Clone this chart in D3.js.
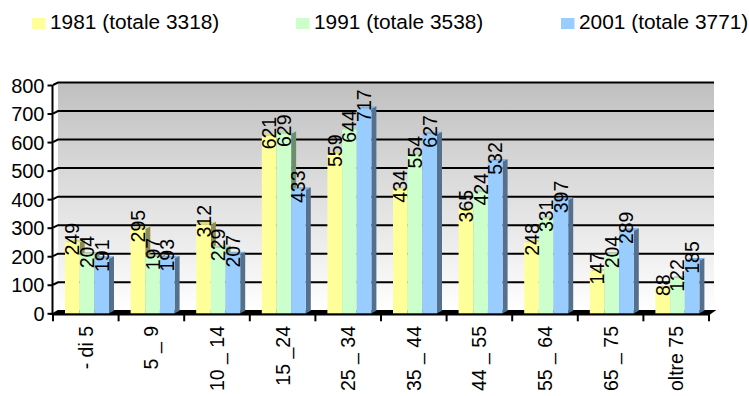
<!DOCTYPE html>
<html><head><meta charset="utf-8">
<script src="https://cdn.jsdelivr.net/npm/d3@7"></script>
<style>body{margin:0;background:#fff}svg{display:block}text{font-family:"Liberation Sans",Arial,sans-serif;fill:#000}</style>
</head><body>
<svg id="c" width="749" height="396"></svg>
<script>
const categories = ["- di 5","5 _ 9","10 _ 14","15 _24","25 _ 34","35 _ 44","44 _ 55","55 _ 64","65 _ 75","oltre 75"];
const seriesNames = ["1981 (totale 3318)","1991 (totale 3538)","2001 (totale 3771)"];
const values1981 = [249,295,312,621,559,434,365,248,147,88];
const values1991 = [204,197,229,629,644,554,424,331,204,122];
const values2001 = [191,193,207,433,717,627,532,397,289,185];
const yTicks = [0,100,200,300,400,500,600,700,800];

const seriesValues = [values1981, values1991, values2001];
const front = ["#ffff99","#ccffcc","#99ccff"];
const topC  = ["#dcdc84","#b0dcb0","#84b0dc"];
const sideC = ["#8c8c54","#6e8c6e","#54708c"];

const svg = d3.select("#c");
const x0 = d3.scaleBand().domain(categories).range([53, 709]).padding(0);
const xs = d3.scaleBand().domain(d3.range(3)).range([12, 56]).padding(0);
const y = d3.scaleLinear().domain([0, 800]).range([313.3, 85]);
const dx = 5, dy = 2.5;

const defs = svg.append("defs");
const g = defs.append("linearGradient").attr("id","wall").attr("x1",0).attr("y1",0).attr("x2",0).attr("y2",1);
g.append("stop").attr("offset","0%").attr("stop-color","#c0c0c0");
g.append("stop").attr("offset","100%").attr("stop-color","#ffffff");

const wallL = 53 + dx, wallR = 709 + dx;
svg.append("rect").attr("x", wallL).attr("y", y(800) - dy).attr("width", wallR - wallL)
  .attr("height", y(0) - y(800)).attr("fill", "url(#wall)");

svg.append("g").selectAll("path").data(yTicks.filter(d => d > 0)).join("path")
  .attr("d", d => `M${53},${y(d)} L${wallL},${y(d)-dy} L${wallR},${y(d)-dy}`)
  .attr("fill","none").attr("stroke","#000").attr("stroke-width",2);

svg.append("path")
  .attr("d", `M52,${y(0)+1} L709,${y(0)+1} L${wallR},${y(0)-dy} L${wallL},${y(0)-dy} Z`)
  .attr("fill","#000").attr("stroke","#000").attr("stroke-width",1.5);

const yAxis = d3.axisLeft(y).tickValues(yTicks).tickSize(5).tickPadding(3).tickFormat(d3.format("d"));
const ya = svg.append("g").attr("transform","translate(52.5,0)").call(yAxis);
ya.select(".domain").attr("stroke","#000").attr("stroke-width",2).attr("d", `M0,${y(800)}V${y(0)}`);
ya.selectAll(".tick line").attr("stroke","#000").attr("stroke-width",2);
ya.selectAll(".tick text").attr("font-size",20).attr("font-family","Liberation Sans, Arial, sans-serif").attr("fill","#000").attr("dy","0.36em");

const xt = d3.range(categories.length + 1).map(i => 53 + i * x0.step());
svg.append("g").selectAll("line").data(xt).join("line")
  .attr("x1", d => d).attr("x2", d => d).attr("y1", y(0)).attr("y2", y(0) + 8)
  .attr("stroke","#000").attr("stroke-width",2);
svg.append("line").attr("x1",52).attr("x2",709).attr("y1",y(0)+1).attr("y2",y(0)+1).attr("stroke","#000").attr("stroke-width",2.5);

svg.append("g").selectAll("text").data(categories).join("text")
  .attr("transform", d => `translate(${x0(d) + x0.bandwidth()/2},326) rotate(-90)`)
  .attr("text-anchor","end").attr("dominant-baseline","central")
  .attr("font-size",19.5).text(d => d);

const bars = [];
categories.forEach((c, ci) => seriesValues.forEach((vals, si) => bars.push({c, si, v: vals[ci]})));
const bw = xs.bandwidth();
const bg = svg.append("g").selectAll("g").data(bars).join("g");
bg.each(function(d) {
  const s = d3.select(this);
  const xL = x0(d.c) + xs(d.si), yT = y(d.v), yB = y(0);
  s.append("path").attr("d", `M${xL+bw},${yT} L${xL+bw+dx},${yT-dy} L${xL+bw+dx},${yB-dy} L${xL+bw},${yB} Z`).attr("fill", sideC[d.si]);
  s.append("path").attr("d", `M${xL},${yT} L${xL+dx},${yT-dy} L${xL+bw+dx},${yT-dy} L${xL+bw},${yT} Z`).attr("fill", topC[d.si]);
  s.append("rect").attr("x", xL).attr("y", yT).attr("width", bw).attr("height", yB - yT).attr("fill", front[d.si]);
});

svg.append("g").selectAll("text").data(bars).join("text")
  .attr("transform", d => `translate(${x0(d.c) + xs(d.si) + bw/2},${y(d.v) - 3}) rotate(-90)`)
  .attr("text-anchor","middle").attr("dominant-baseline","central")
  .attr("font-size",19.5).text(d => d.v);

const legX = [32, 296, 561];
const lg = svg.append("g").selectAll("g").data(seriesNames).join("g")
  .attr("transform", (d, i) => `translate(${legX[i]},0)`);
lg.append("rect").attr("x",0).attr("y",18).attr("width",13.5).attr("height",11).attr("fill",(d,i)=>front[i]);
lg.append("text").attr("transform","translate(18,29) scale(1.07,1)").attr("font-size",19.5).text(d => d);
</script>
</body></html>
